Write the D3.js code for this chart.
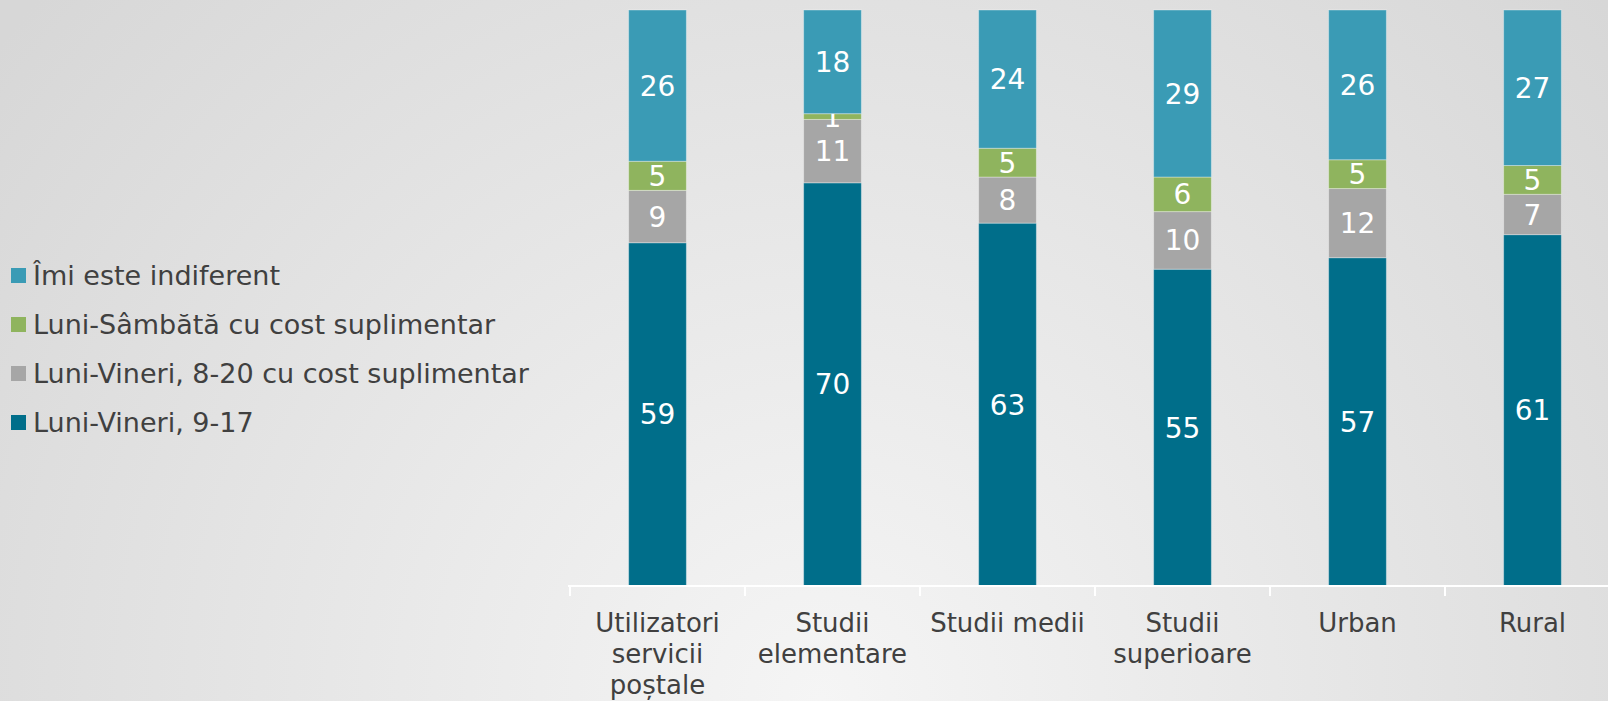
<!DOCTYPE html>
<html>
<head>
<meta charset="utf-8">
<script src="https://cdn.jsdelivr.net/npm/d3@7"></script>
<style>
  html, body { margin: 0; padding: 0; overflow: hidden; }
  body { width: 1608px; height: 701px; }
  svg { display: block; font-family: "DejaVu Sans", Verdana, sans-serif; }
</style>
</head>
<body>
<svg id="chart"></svg>
<script>
// categorii si valori (%)
const categories = ['Utilizatori servicii poștale', 'Studii elementare', 'Studii medii', 'Studii superioare', 'Urban', 'Rural']
const seriesNames = ['Luni-Vineri, 9-17', 'Luni-Vineri, 8-20 cu cost suplimentar', 'Luni-Sâmbătă cu cost suplimentar', 'Îmi este indiferent']
const lv917 = [59, 70, 63, 55, 57, 61]
const lv820 = [9, 11, 8, 10, 12, 7]
const lsCost = [5, 1, 5, 6, 5, 5]
const indiferent = [26, 18, 24, 29, 26, 27]
const colors = ['#006E8A', '#A6A6A6', '#8FB45E', '#3A9BB5']

let width = 1608
let height = 701

let svg = d3.select('#chart').attr('width', width).attr('height', height)

// fundal cu gradient
let defs = svg.append('defs')
let grad = defs.append('radialGradient')
    .attr('id', 'bg')
    .attr('gradientUnits', 'userSpaceOnUse')
    .attr('cx', 820).attr('cy', 700).attr('r', 1050)
grad.append('stop').attr('offset', '0%').attr('stop-color', '#f5f5f5')
grad.append('stop').attr('offset', '100%').attr('stop-color', '#d7d7d7')
svg.append('rect').attr('width', width).attr('height', height).attr('fill', 'url(#bg)')

// tabel pentru stack (procente normalizate)
let rows = categories.map((c, i) => {
    let vals = [lv917[i], lv820[i], lsCost[i], indiferent[i]]
    let row = { cat: c }
    seriesNames.forEach((s, k) => { row[s] = vals[k] })
    return row
})

let stack = d3.stack().keys(seriesNames).offset(d3.stackOffsetExpand)
let stacked = stack(rows)

let x = d3.scaleBand()
    .domain(categories)
    .range([570, 1620])
    .paddingInner(0.67)
    .paddingOuter(0.335)

let y = d3.scaleLinear().domain([0, 1]).range([586, 10])

let g = svg.append('g')

let layers = g.selectAll('g.layer')
    .data(stacked)
    .enter().append('g')
    .attr('class', 'layer')
    .attr('fill', (d, i) => colors[i])

layers.selectAll('rect')
    .data(d => d.map(p => ({ p: p, key: d.key })))
    .enter().append('rect')
    .attr('x', d => x(d.p.data.cat))
    .attr('width', x.bandwidth())
    .attr('y', d => y(d.p[1]))
    .attr('height', d => y(d.p[0]) - y(d.p[1]))
    .attr('stroke', 'rgba(255,255,255,0.35)')
    .attr('stroke-width', 1)

// etichete valori
layers.selectAll('text')
    .data(d => d.map(p => ({ p: p, key: d.key })))
    .enter().append('text')
    .attr('x', d => x(d.p.data.cat) + x.bandwidth() / 2)
    .attr('y', d => (y(d.p[0]) + y(d.p[1])) / 2)
    .attr('dy', '0.36em')
    .attr('text-anchor', 'middle')
    .attr('fill', '#ffffff')
    .style('font-size', '28px')
    .text(d => d.p.data[d.key])

// axa X
let step = x.step()
let axis = svg.append('g')
axis.append('line')
    .attr('x1', 568).attr('x2', width)
    .attr('y1', 586).attr('y2', 586)
    .attr('stroke', '#ffffff').attr('stroke-width', 2)

let tickX = categories.map(c => x(c) - (step - x.bandwidth()) / 2)
axis.selectAll('line.tick')
    .data(tickX)
    .enter().append('line')
    .attr('class', 'tick')
    .attr('x1', d => d).attr('x2', d => d)
    .attr('y1', 586).attr('y2', 596)
    .attr('stroke', '#ffffff').attr('stroke-width', 2)

let labels = axis.selectAll('text')
    .data(categories)
    .enter().append('text')
    .attr('x', d => x(d) + x.bandwidth() / 2)
    .attr('y', 632)
    .attr('text-anchor', 'middle')
    .attr('fill', '#404040')
    .style('font-size', '26px')
    .text(d => d)

// impartire pe randuri
function wrap(sel, maxW) {
    sel.each(function () {
        let t = d3.select(this)
        let words = t.text().split(' ')
        let cx = t.attr('x')
        t.text(null)
        let line = []
        let ts = t.append('tspan').attr('x', cx)
        words.forEach(w => {
            line.push(w)
            ts.text(line.join(' '))
            if (ts.node().getComputedTextLength() > maxW && line.length > 1) {
                line.pop()
                ts.text(line.join(' '))
                line = [w]
                ts = t.append('tspan').attr('x', cx).attr('dy', '31px').text(w)
            }
        })
    })
}
labels.call(wrap, 165)

// legenda
let legendY = [432, 383, 334, 285]
let legend = svg.append('g')
seriesNames.forEach((s, i) => {
    legend.append('rect')
        .attr('x', 11).attr('y', legendY[i] - 17)
        .attr('width', 15).attr('height', 15)
        .attr('fill', colors[i])
    legend.append('text')
        .attr('x', 33).attr('y', legendY[i])
        .attr('fill', '#404040')
        .style('font-size', '27px')
        .text(s)
})
</script>
</body>
</html>
